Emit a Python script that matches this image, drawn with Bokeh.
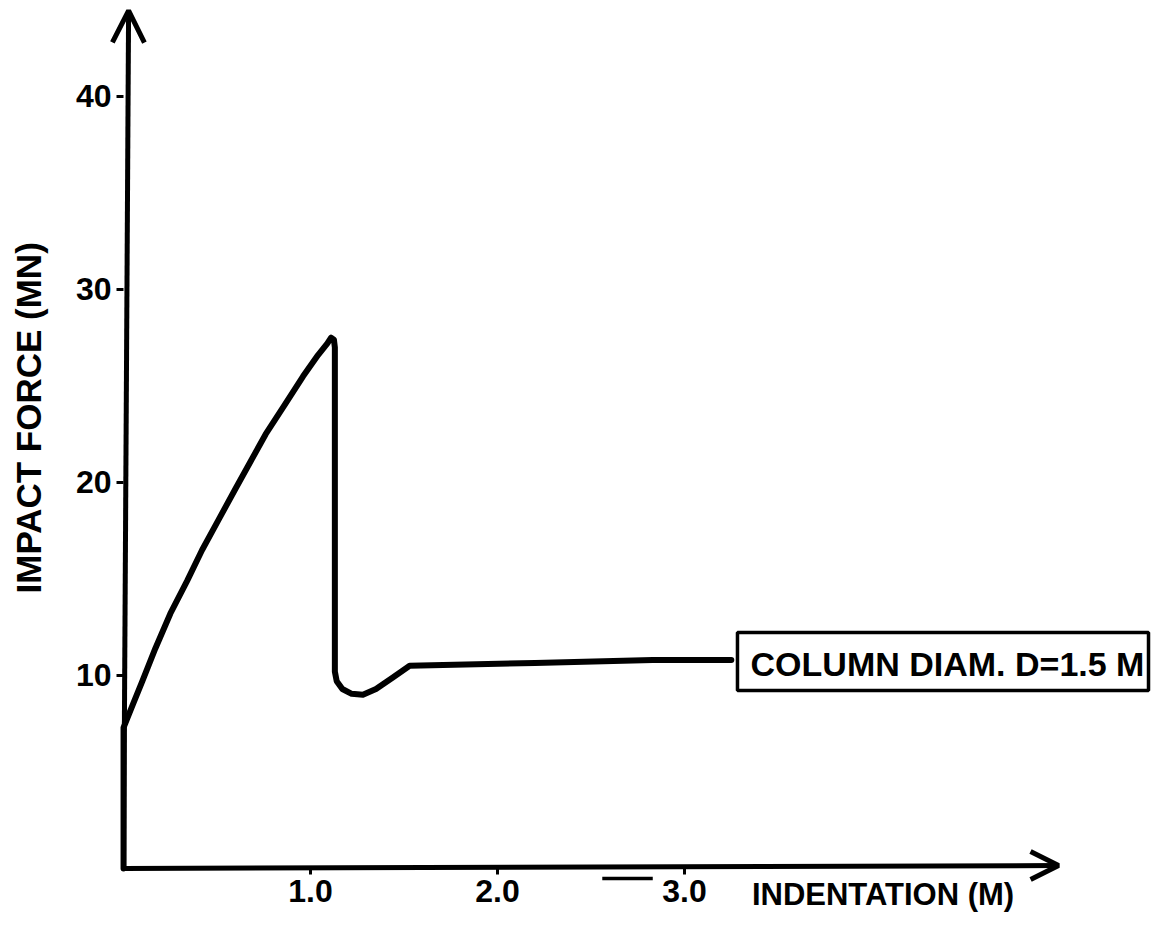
from bokeh.plotting import figure
from bokeh.models import Range1d, FixedTicker, Arrow, OpenHead, Label, BoxAnnotation
from bokeh.embed import file_html
from bokeh.resources import INLINE

# ---- data ----
indentation = [0.0, 0.0, 0.05, 0.10, 0.17, 0.25, 0.34, 0.42, 0.51, 0.60, 0.68, 0.76,
               0.86, 0.96, 1.04, 1.09, 1.11, 1.125, 1.13, 1.13, 1.14, 1.17, 1.22,
               1.28, 1.35, 1.44, 1.53, 2.20, 2.83, 3.25]
impact_force = [0.0, 7.3, 8.5, 9.7, 11.4, 13.2, 14.9, 16.5, 18.1, 19.7, 21.1, 22.5,
                24.0, 25.5, 26.6, 27.2, 27.5, 27.4, 27.0, 10.2, 9.7, 9.3, 9.05,
                9.0, 9.3, 9.9, 10.5, 10.65, 10.8, 10.8]
x_ticks = [1.0, 2.0, 3.0]
x_tick_labels = ["1.0", "2.0", "3.0"]
y_ticks = [10, 20, 30, 40]
y_tick_labels = ["10", "20", "30", "40"]
stray_x = [2.56, 2.83]
stray_y = [-0.52, -0.52]

FONT = "Liberation Sans"

p = figure(width=1151, height=912,
           x_range=Range1d(-0.658, 5.497), y_range=Range1d(-2.28, 44.97),
           output_backend="svg", toolbar_location=None, min_border=0)
p.grid.visible = False
p.outline_line_color = None
p.background_fill_color = "white"
p.border_fill_color = "white"

for ax in (p.xaxis[0], p.yaxis[0]):
    ax.fixed_location = 0
    ax.axis_line_color = None
    ax.minor_tick_line_color = None
    ax.major_tick_in = 0
    ax.major_tick_line_width = 3
    ax.major_tick_line_color = "black"
    ax.major_label_text_font = FONT
    ax.major_label_text_font_style = "bold"
    ax.major_label_text_font_size = "32px"
    ax.major_label_text_color = "black"

p.xaxis.ticker = FixedTicker(ticks=x_ticks)
p.xaxis.major_label_overrides = dict(zip(x_ticks, x_tick_labels))
p.xaxis.major_tick_out = 6
p.xaxis.major_label_standoff = 6

p.yaxis.ticker = FixedTicker(ticks=y_ticks)
p.yaxis.major_label_overrides = dict(zip(y_ticks, y_tick_labels))
p.yaxis.major_tick_out = 7
p.yaxis.major_label_standoff = 5

# axis lines with arrow heads
p.add_layout(Arrow(x_start=0, y_start=0, x_end=5.0, y_end=0.155,
                   line_width=5, line_color="black",
                   end=OpenHead(size=28, line_width=5, line_color="black")))
p.add_layout(Arrow(x_start=0, y_start=0, x_end=0.027, y_end=44.45,
                   line_width=5, line_color="black",
                   end=OpenHead(size=32, line_width=5, line_color="black")))

# curve
p.line(indentation, impact_force, line_width=6, line_color="black",
       line_join="round", line_cap="round")
p.line(stray_x, stray_y, line_width=3.5, line_color="black")

# axis titles
p.add_layout(Label(x=3.36, y=-1.35, text="INDENTATION (M)", text_font=FONT,
                   text_font_style="bold", text_font_size="31px",
                   text_baseline="alphabetic", text_align="left", text_color="black"))
p.add_layout(Label(x=-0.508, y=14.25, text="IMPACT FORCE (MN)", angle=90,
                   angle_units="deg", text_font=FONT, text_font_style="bold",
                   text_font_size="35px", text_baseline="alphabetic",
                   text_align="left", text_color="black"))

# boxed annotation
p.add_layout(BoxAnnotation(left=3.283, right=5.481, top=12.23, bottom=9.22,
                           fill_alpha=0, line_alpha=1, line_color="black",
                           line_width=3.5))
p.add_layout(Label(x=3.353, y=10.62, text="COLUMN DIAM. D=1.5 M", text_font=FONT,
                   text_font_style="bold", text_font_size="34px",
                   text_baseline="alphabetic", text_align="left", text_color="black"))

open("out.html", "w").write(file_html(p, INLINE))
